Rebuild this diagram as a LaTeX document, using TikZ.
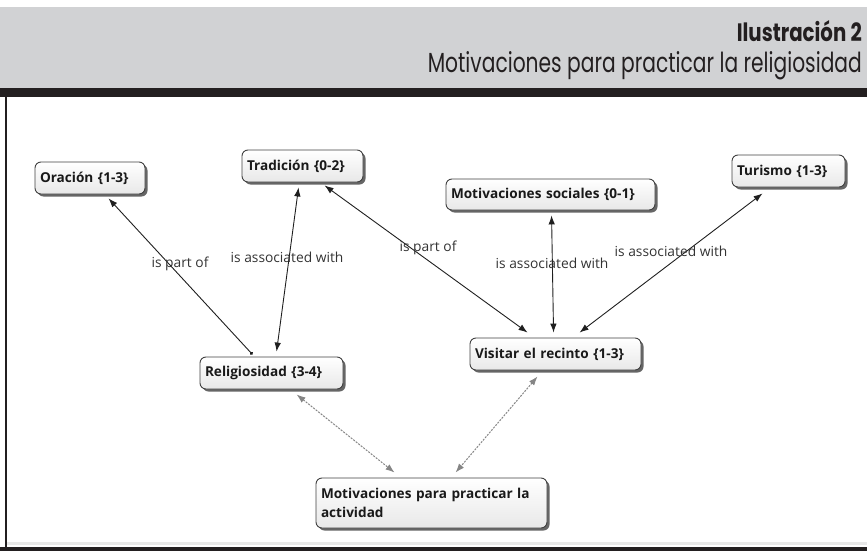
\documentclass[tikz,border=0pt]{standalone}
\usepackage{fontspec}
\setmainfont{Open Sans}
\newfontfamily\headfont{Poppins}
\usetikzlibrary{arrows.meta,calc,shadows}
\definecolor{hdrgray}{HTML}{D1D2D4}
\definecolor{ink}{HTML}{231F20}
\definecolor{lblgray}{HTML}{333333}
\definecolor{dashgray}{HTML}{858585}
\begin{document}
\begin{tikzpicture}[x=1pt,y=-1pt,
  concept/.style={draw=black!75, line width=0.9pt, rounded corners=6pt,
    top color=white, bottom color=black!9,
    drop shadow={shadow xshift=2.5pt, shadow yshift=-2.5pt, fill=black!75, opacity=0.8},
    inner xsep=5pt, inner ysep=3pt, minimum height=32pt,
    font=\bfseries\fontsize{13.6}{19.5}\selectfont, text=black!90, align=left},
  lbl/.style={font=\fontsize{13.8}{15}\selectfont, text=lblgray, inner sep=0pt},
  link/.style={draw=black!88, line width=0.9pt},
  twotip/.style={{Latex[length=9pt,width=6.5pt]}-{Latex[length=9pt,width=6.5pt]}},
  grey link/.style={draw=dashgray, line width=1pt, dash pattern=on 2pt off 1.2pt,
    {Latex[length=9pt,width=6.5pt]}-{Latex[length=9pt,width=6.5pt]}}
]
\useasboundingbox (0,0) rectangle (867,551);
% frame and header
\fill[hdrgray] (0,7) rectangle (867,88);
\fill[ink] (0,88) rectangle (867,97);
\fill[ink] (4.5,97) rectangle (7.2,547);
\fill[black!9] (7.2,542) rectangle (867,545);
\fill[ink] (0,546.5) rectangle (867,551);
\node[anchor=base east, inner sep=0pt, text=ink] (title) at (862,42)
  {\resizebox{125pt}{21pt}{\headfont\bfseries Ilustración 2}};
\node[anchor=base east, inner sep=0pt, text=ink] (subtitle) at (862,72)
  {\resizebox{434pt}{21pt}{\headfont Motivaciones para practicar la religiosidad}};

% concepts
\node[concept, text width=100pt] (orac) at (90,178) {Oración \{1-3\}};
\node[concept, text width=111pt] (trad) at (302.5,166) {Tradición \{0-2\}};
\node[concept, text width=199pt, minimum height=31pt] (msoc) at (550.5,194.5) {Motivaciones sociales \{0-1\}};
\node[concept, text width=103pt] (tur) at (788.5,171) {Turismo \{1-3\}};
\node[concept, text width=133pt] (rel) at (271.5,373) {Religiosidad \{3-4\}};
\node[concept, text width=161pt] (vis) at (555.5,354) {Visitar el recinto \{1-3\}};
\node[concept, text width=221pt, minimum height=50pt] (mpa) at (431.5,503)
  {Motivaciones para practicar la\\[-1pt]actividad};

% links
\draw[link, {Circle[length=3.2pt]}-{Latex[length=9pt,width=6.5pt]}]
  ($(rel.north west)+(53,-2)$) -- ($(orac.south west)+(74,4)$);
\draw[link, twotip] ($(trad.south west)+(57,5)$) -- ($(rel.north west)+(77,-5)$);
\draw[link, twotip] ($(trad.south west)+(83,3)$) -- ($(vis.north west)+(58,-5)$);
\draw[link, twotip] ($(msoc.south west)+(106,5)$) -- ($(vis.north west)+(84,-5)$);
\draw[link, twotip] ($(tur.south west)+(31,6)$) -- ($(vis.north west)+(110,-5)$);
\draw[grey link] ($(rel.south west)+(97,5)$) -- ($(mpa.north west)+(79,-5)$);
\draw[grey link] ($(vis.south west)+(68,6)$) -- ($(mpa.north west)+(140,-5)$);

% link labels
\node[lbl] (l1) at (180,264) {is part of};
\node[lbl] (l2) at (287,257) {is associated with};
\node[lbl] (l3) at (428,248) {is part of};
\node[lbl] (l4) at (552,263) {is associated with};
\node[lbl] (l5) at (671,251) {is associated with};
\end{tikzpicture}
\end{document}
